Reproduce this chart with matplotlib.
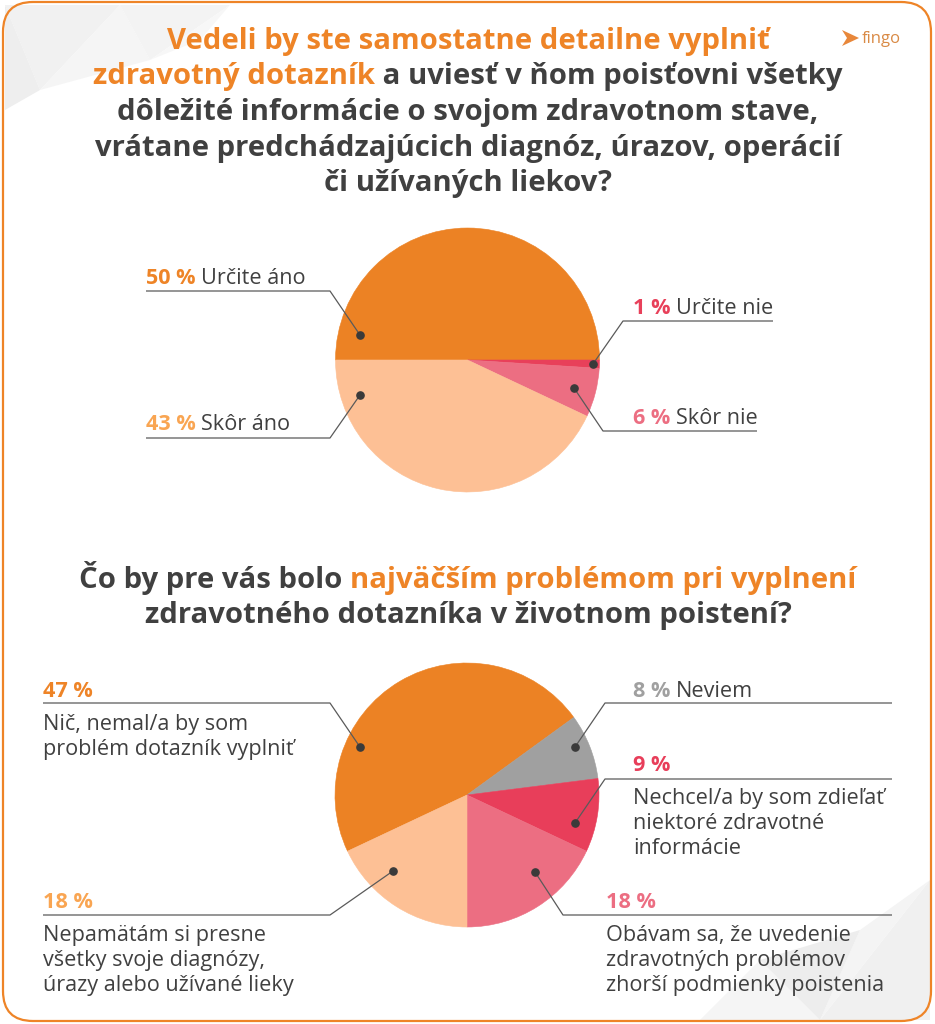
import matplotlib
matplotlib.use("Agg")
import matplotlib.pyplot as plt
from matplotlib.patches import FancyBboxPatch, Polygon

# ---------------- data ----------------
q1_labels = ["Určite áno", "Určite nie", "Skôr nie", "Skôr áno"]
q1_values = [50, 1, 6, 43]
q1_colors = ["#EC8224", "#E8405A", "#EC6E82", "#FDC095"]

q2_labels = ["Nič, nemal/a by som\nproblém dotazník vyplniť",
             "Neviem",
             "Nechcel/a by som zdieľať\nniektoré zdravotné\ninformácie",
             "Obávam sa, že uvedenie\nzdravotných problémov\nzhorší podmienky poistenia",
             "Nepamätám si presne\nvšetky svoje diagnózy,\núrazy alebo užívané lieky"]
q2_values = [47, 8, 9, 18, 18]
q2_colors = ["#EC8224", "#A0A0A0", "#E83E5A", "#EC6E82", "#FDC095"]

title1 = [[("Vedeli by ste samostatne detailne vyplniť", "o")],
          [("zdravotný dotazník", "o"), (" a uviesť v ňom poisťovni všetky", "d")],
          [("dôležité informácie o svojom zdravotnom stave,", "d")],
          [("vrátane predchádzajúcich diagnóz, úrazov, operácií", "d")],
          [("či užívaných liekov?", "d")]]
title2 = [[("Čo by pre vás bolo ", "d"), ("najväčším problémom pri vyplnení", "o")],
          [("zdravotného dotazníka v životnom poistení?", "d")]]

# ---------------- style ----------------
W, H = 935, 1024
ORANGE = "#EE8427"
DARK = "#404040"
LINEC = "#5a5a5a"
DOTC = "#3a3a3a"
FONT = "Open Sans"
TCOL = {"o": ORANGE, "d": DARK}
pct_colors1 = ["#EE8427", "#E8405A", "#EC6E82", "#F9A552"]
pct_colors2 = ["#EE8427", "#A0A0A0", "#E83E5A", "#EC6E82", "#F9A552"]

fig = plt.figure(figsize=(W / 100, H / 100), dpi=100)
fig.patch.set_facecolor("white")
ax = fig.add_axes([0, 0, 1, 1])
ax.set_xlim(0, W)
ax.set_ylim(H, 0)
ax.axis("off")
ax.set_zorder(3)
renderer = fig.canvas.get_renderer()

# background decorations (faint low-poly shapes)
deco = [
    ([(5, 5), (120, 5), (40, 90)], "#F1F1F1"),
    ([(40, 90), (120, 5), (150, 60)], "#F5F5F5"),
    ([(120, 5), (230, 5), (150, 60)], "#F3F3F3"),
    ([(5, 5), (40, 90), (5, 110)], "#EEEEEE"),
    ([(150, 60), (230, 5), (200, 40)], "#F7F7F7"),
    ([(930, 880), (930, 1020), (820, 1020)], "#F0F0F0"),
    ([(820, 1020), (930, 880), (860, 930)], "#F4F4F4"),
    ([(700, 1020), (820, 1020), (760, 960)], "#F5F5F5"),
    ([(760, 960), (860, 930), (820, 1020)], "#EDEDED"),
]
for pts, c in deco:
    ax.add_patch(Polygon(pts, closed=True, facecolor=c, edgecolor="none", zorder=0))

# frame
ax.add_patch(FancyBboxPatch((3, 2), 928, 1019, boxstyle="round,pad=0,rounding_size=30",
                            facecolor="none", edgecolor=ORANGE, linewidth=1.6, zorder=5))

# logo
ax.add_patch(Polygon([(842, 30), (859, 38), (842, 46), (847, 38)], closed=True,
                     facecolor="#E8873A", edgecolor="none", zorder=3))
ax.text(862, 43, "fingo", fontsize=12, color="#D98A45", family=FONT,
        ha="left", va="baseline")


def tw(s, size, weight):
    t = ax.text(0, 0, s, fontsize=size, fontweight=weight, family=FONT)
    w = t.get_window_extent(renderer).width
    t.remove()
    return w


def adv(s, size, weight):
    return tw(s + "l", size, weight) - tw("l", size, weight)


def runs_line(runs, x, y, size, ha="left"):
    """runs: list of (text, color, weight)"""
    widths = [adv(s, size, w) for s, c, w in runs[:-1]] + [tw(runs[-1][0], size, runs[-1][2])]
    total = sum(widths)
    x0 = x - total / 2 if ha == "center" else x
    for (s, c, w), wd in zip(runs, widths):
        ax.text(x0, y, s, fontsize=size, fontweight=w, color=c, family=FONT,
                ha="left", va="baseline", zorder=8)
        x0 += wd


TSIZE = 21.1
for i, line in enumerate(title1):
    runs_line([(s, TCOL[c], "bold") for s, c in line], 468, 48.5 + i * 35.7, TSIZE, "center")
for i, line in enumerate(title2):
    runs_line([(s, TCOL[c], "bold") for s, c in line], 468, 588 + i * 35, TSIZE, "center")

# ---------------- pies ----------------
R = 132


def pie_axes(cx, cy):
    a = fig.add_axes([(cx - R) / W, (H - cy - R) / H, 2 * R / W, 2 * R / H])
    a.set_zorder(1)
    return a


pa1 = pie_axes(467.5, 360)
pa1.pie(q1_values, colors=q1_colors, startangle=180, counterclock=False, radius=1,
        wedgeprops=dict(linewidth=0.4))
for w, c in zip(pa1.patches, q1_colors):
    w.set_edgecolor(c)
pa1.set_xlim(-1, 1); pa1.set_ylim(-1, 1); pa1.set_aspect("equal"); pa1.axis("off")

pa2 = pie_axes(467, 795)
pa2.pie(q2_values, colors=q2_colors, startangle=205.2, counterclock=False, radius=1,
        wedgeprops=dict(linewidth=0.4))
for w, c in zip(pa2.patches, q2_colors):
    w.set_edgecolor(c)
pa2.set_xlim(-1, 1); pa2.set_ylim(-1, 1); pa2.set_aspect("equal"); pa2.axis("off")

LSIZE = 15.6


def leader(pts, dot):
    xs = [p[0] for p in pts] + [dot[0]]
    ys = [p[1] for p in pts] + [dot[1]]
    ax.plot(xs, ys, color=LINEC, lw=0.9, solid_capstyle="butt", zorder=6)
    ax.plot([dot[0]], [dot[1]], "o", ms=5.2, color=DOTC, zorder=7)


# top chart labels: (text x, baseline, line points, dot)
top_layout = [
    (146, 284, [(146, 291), (330, 291)], (360, 335)),
    (633, 314, [(773, 321), (623, 321)], (593, 364)),
    (633, 424, [(757, 431), (603, 431)], (574, 388)),
    (146, 430, [(146, 438), (330, 438)], (360, 395)),
]
for lab, v, pc, (tx, ty, pts, dot) in zip(q1_labels, q1_values, pct_colors1, top_layout):
    runs_line([(f"{v} % ", pc, "bold"), (lab, DARK, "normal")], tx, ty, LSIZE)
    leader(pts, dot)

# bottom chart labels
bot_layout = [
    (43, 697, [(43, 703), (330, 703)], (360, 747), "below"),
    (633, 697, [(892, 703), (605, 703)], (575, 747), "inline"),
    (633, 771, [(892, 779), (605, 779)], (575, 823), "below"),
    (606, 908, [(892, 915), (563, 915)], (535, 872), "below"),
    (43, 908, [(43, 915), (330, 915)], (393, 871), "below"),
]
for lab, v, pc, (tx, ty, pts, dot, mode) in zip(q2_labels, q2_values, pct_colors2, bot_layout):
    if mode == "inline":
        runs_line([(f"{v} % ", pc, "bold"), (lab, DARK, "normal")], tx, ty, LSIZE)
    else:
        runs_line([(f"{v} %", pc, "bold")], tx, ty, LSIZE)
        for j, ln in enumerate(lab.split("\n")):
            ax.text(tx, ty + 33 + j * 25, ln, fontsize=LSIZE, color=DARK, family=FONT,
                    ha="left", va="baseline", zorder=8)
    leader(pts, dot)

fig.savefig("out.png", dpi=100, facecolor="white")
